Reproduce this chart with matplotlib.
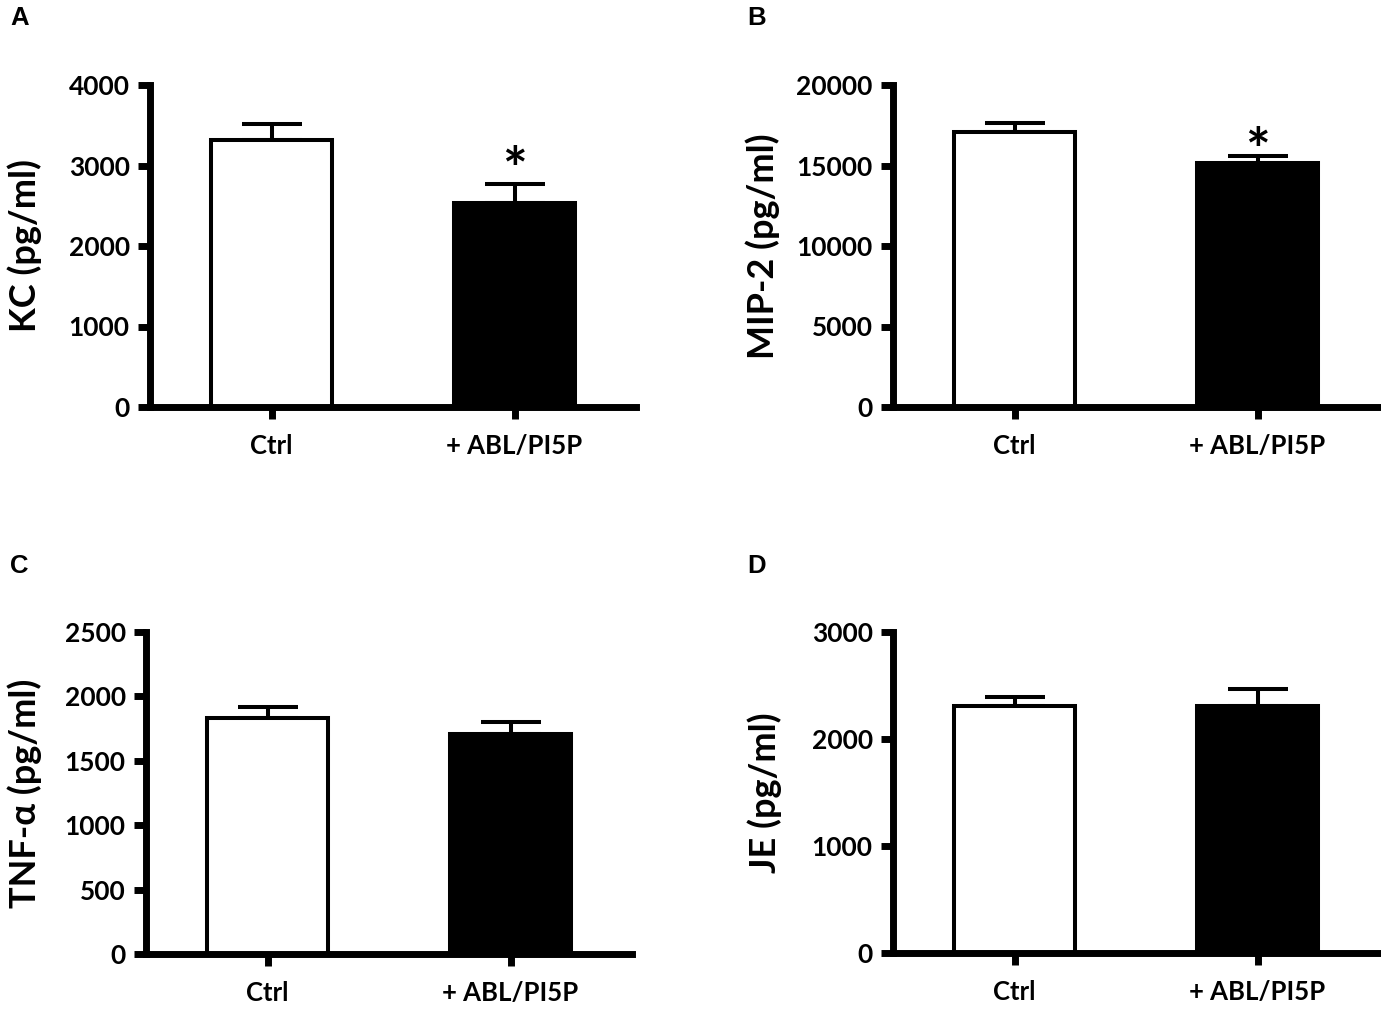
import matplotlib
matplotlib.use("Agg")
import matplotlib.pyplot as plt

plt.rcParams['font.family'] = ['Lato', 'DejaVu Sans']
plt.rcParams['font.weight'] = 'bold'

categories = ["Ctrl", "+ ABL/PI5P"]

kc_mean = [3321, 2535]
kc_err = [193, 230]
mip2_mean = [17093, 15134]
mip2_err = [577, 433]
tnf_mean = [1836, 1710]
tnf_err = [78, 90]
je_mean = [2307, 2305]
je_err = [81, 160]

kc_ticks = [0, 1000, 2000, 3000, 4000]
mip2_ticks = [0, 5000, 10000, 15000, 20000]
tnf_ticks = [0, 500, 1000, 1500, 2000, 2500]
je_ticks = [0, 1000, 2000, 3000]

ylabels = ["KC (pg/ml)", "MIP-2 (pg/ml)", "TNF-\u03b1 (pg/ml)", "JE (pg/ml)"]
panel_letters = ["A", "B", "C", "D"]
significant = [[False, True], [False, True], [False, False], [False, False]]

W, H = 1381, 1009
fig = plt.figure(figsize=(W / 100, H / 100), dpi=100)

# axes rectangles in pixel coordinates: left, top, right, bottom
rects = [(150, 85, 636, 407), (893, 85, 1379, 407),
         (146, 632, 632, 954), (893, 632, 1379, 953)]
label_x = [-0.222, -0.233, -0.214, -0.228]
star_offset = [-3.6, -10, 0, 0]
letter_pos = [(10, 6), (747, 6), (10, 554), (747, 554)]

means = [kc_mean, mip2_mean, tnf_mean, je_mean]
errs = [kc_err, mip2_err, tnf_err, je_err]
ticks = [kc_ticks, mip2_ticks, tnf_ticks, je_ticks]

spine_lw = 5.0
bar_lw = 2.9

for i in range(4):
    l, t, r, b = rects[i]
    ax = fig.add_axes([l / W, 1 - b / H, (r - l) / W, (b - t) / H])
    x = list(range(len(categories)))
    ax.errorbar(x, means[i], yerr=[[0] * len(x), errs[i]], fmt='none',
                ecolor='black', elinewidth=bar_lw, capsize=21.5,
                capthick=bar_lw, zorder=1)
    ax.bar(x, means[i], width=0.5, color=['white', 'black'],
           edgecolor='black', linewidth=bar_lw, zorder=2)
    ax.set_xlim(-0.5, 1.5)
    ax.set_ylim(0, ticks[i][-1])
    ax.set_yticks(ticks[i])
    ax.set_yticklabels([str(v) for v in ticks[i]])
    ax.set_xticks(x)
    ax.set_xticklabels(categories)
    for s in ['top', 'right']:
        ax.spines[s].set_visible(False)
    for s in ['left', 'bottom']:
        ax.spines[s].set_linewidth(spine_lw)
        ax.spines[s].set_capstyle('projecting')
        ax.spines[s].set_zorder(3)
    ax.tick_params(axis='both', direction='out', length=8.6, width=spine_lw)
    ax.tick_params(axis='y', pad=6, labelsize=19)
    ax.tick_params(axis='x', pad=11, labelsize=18.5)
    for lab in ax.get_xticklabels() + ax.get_yticklabels():
        lab.set_fontweight('bold')
    ax.set_ylabel(ylabels[i], fontsize=26, fontweight='bold')
    ax.yaxis.set_label_coords(label_x[i], 0.5)
    for j in range(len(x)):
        if significant[i][j]:
            ax.annotate('*', xy=(x[j], means[i][j] + errs[i][j]),
                        xytext=(0, star_offset[i]), textcoords='offset points',
                        ha='center', va='baseline', fontsize=42, fontweight='bold')
    lx, ly = letter_pos[i]
    fig.text(lx / W, 1 - ly / H, panel_letters[i], ha='left', va='top',
             fontsize=18.5, family='Liberation Sans', fontweight='bold')

fig.savefig("out.png", dpi=100, facecolor='white')
